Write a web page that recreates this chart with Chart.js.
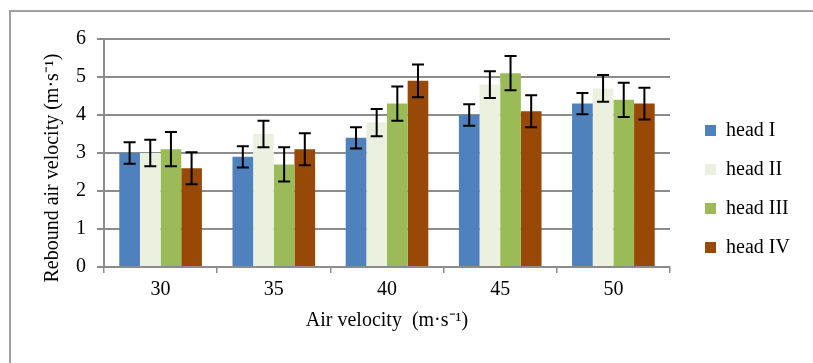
<!DOCTYPE html>
<html>
<head>
<meta charset="utf-8">
<script src="https://cdn.jsdelivr.net/npm/chart.js@4"></script>
<style>
  html, body { margin: 0; padding: 0; background: #fff; overflow: hidden; }
  #wrap { position: relative; width: 813px; height: 363px; }
  #frame { position: absolute; left: 9px; top: 10px; width: 820px; height: 370px; border: 2px solid #a0a0a0; box-sizing: border-box; }
  canvas { position: absolute; left: 0; top: 0; }
</style>
</head>
<body>
<div id="wrap">
  <div id="frame"></div>
  <canvas id="chart1" width="813" height="363"></canvas>
</div>
<script>
const xValues = ["30", "35", "40", "45", "50"];
const seriesNames = ["head I", "head II", "head III", "head IV"];
const headI = [3.0, 2.9, 3.4, 4.0, 4.3];
const headII = [3.0, 3.5, 3.8, 4.8, 4.7];
const headIII = [3.1, 2.7, 4.3, 5.1, 4.4];
const headIV = [2.6, 3.1, 4.9, 4.1, 4.3];
const errI = [0.28, 0.28, 0.28, 0.28, 0.28];
const errII = [0.35, 0.35, 0.36, 0.35, 0.35];
const errIII = [0.45, 0.45, 0.45, 0.45, 0.45];
const errIV = [0.42, 0.42, 0.43, 0.42, 0.42];
const barColors = ['#4F81BD', '#EBF1DE', '#9BBB59', '#984807'];

const font = 'Liberation Serif, Times New Roman, serif';

// error bars drawn on top of each bar
const errorBars = {
    id: 'errorBars',
    afterDatasetsDraw(chart) {
        const ctx = chart.ctx;
        const yScale = chart.scales.y;
        ctx.save();
        ctx.strokeStyle = '#000';
        ctx.lineWidth = 2;
        chart.data.datasets.forEach((ds, i) => {
            const meta = chart.getDatasetMeta(i);
            meta.data.forEach((bar, j) => {
                const v = ds.data[j];
                const e = ds.errors[j];
                const yTop = yScale.getPixelForValue(v + e);
                const yBot = yScale.getPixelForValue(v - e);
                const x = bar.x;
                ctx.beginPath();
                ctx.moveTo(x, yTop); ctx.lineTo(x, yBot);
                ctx.moveTo(x - 6, yTop); ctx.lineTo(x + 6, yTop);
                ctx.moveTo(x - 6, yBot); ctx.lineTo(x + 6, yBot);
                ctx.stroke();
            });
        });
        ctx.restore();
    }
};

// push the legend a bit to the right of the plot area
const shiftLegend = {
    id: 'shiftLegend',
    afterLayout(chart) {
        chart.legend.left += 16;
        chart.legend.right += 16;
    }
};

const chart = new Chart("chart1", {
    type: "bar",
    data: {
        labels: xValues,
        datasets: [
            { label: seriesNames[0], data: headI, errors: errI, backgroundColor: barColors[0] },
            { label: seriesNames[1], data: headII, errors: errII, backgroundColor: barColors[1] },
            { label: seriesNames[2], data: headIII, errors: errIII, backgroundColor: barColors[2] },
            { label: seriesNames[3], data: headIV, errors: errIV, backgroundColor: barColors[3] }
        ]
    },
    options: {
        responsive: false,
        animation: false,
        devicePixelRatio: 1,
        layout: { padding: { left: 0, top: 39, right: 20, bottom: 24 } },
        datasets: { bar: { categoryPercentage: 0.73, barPercentage: 1.0 } },
        plugins: {
            legend: {
                position: 'right',
                labels: {
                    font: { family: font, size: 20 },
                    color: '#000',
                    boxWidth: 11,
                    boxHeight: 11,
                    padding: 19
                }
            },
            tooltip: { enabled: false }
        },
        scales: {
            x: {
                afterFit(scale) { scale.height = 72; },
                grid: { display: true, drawOnChartArea: false, drawTicks: true, tickLength: 6, color: '#8c8c8c', lineWidth: 1.5 },
                border: { color: '#8c8c8c', width: 2 },
                ticks: { font: { family: font, size: 20 }, color: '#000', padding: 5 },
                title: { display: true, text: 'Air velocity\u00a0\u00a0(m·s⁻¹)', font: { family: font, size: 20 }, color: '#000', padding: { top: 4, bottom: 6 } }
            },
            y: {
                min: 0,
                max: 6,
                afterFit(scale) { scale.width = 104; },
                grid: { color: '#8c8c8c', lineWidth: 2, tickLength: 7 },
                border: { color: '#8c8c8c', width: 2 },
                ticks: { stepSize: 1, font: { family: font, size: 20 }, color: '#000', padding: 11 },
                title: { display: true, text: 'Rebound air velocity (m·s⁻¹)\u00a0\u00a0\u00a0\u00a0\u00a0\u00a0', font: { family: font, size: 20 }, color: '#000', padding: { top: 41, bottom: 0 } }
            }
        }
    },
    plugins: [errorBars, shiftLegend]
});

// adjust right padding so the plot area ends where the reference's does
const diff = chart.chartArea.right - 670;
chart.options.layout.padding.right += diff;
chart.update();
</script>
</body>
</html>
